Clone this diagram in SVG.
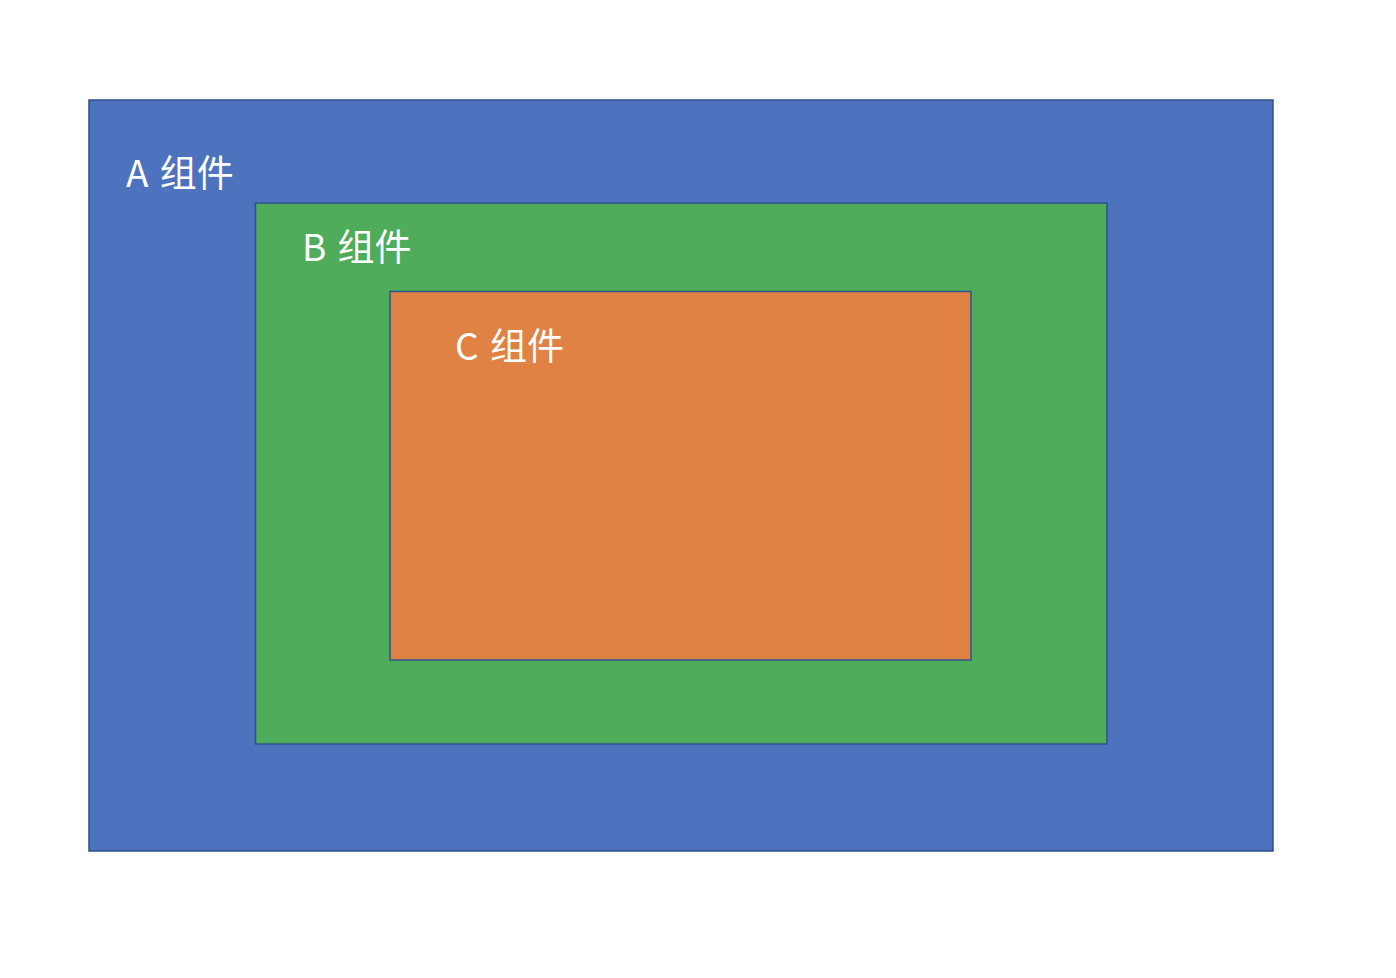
<svg xmlns="http://www.w3.org/2000/svg" width="1396" height="978" viewBox="0 0 1396 978">
<style>
.box{stroke:#2F528F;stroke-width:1.5}
.lbl{fill:#FFFFFF;font-family:"Noto Sans CJK SC","Noto Sans",sans-serif;font-size:37px;word-spacing:3px}
</style>
<rect width="1396" height="978" fill="#FFFFFF"/>
<g id="nodeA">
<rect class="box" x="89" y="100" width="1184" height="751" fill="#4D72BE"/>
<text class="lbl" x="126" y="187">A 组件</text>
</g>
<g id="nodeB">
<rect class="box" x="255.5" y="203" width="851.5" height="541" fill="#4FAC5B"/>
<text class="lbl" x="302" y="261">B 组件</text>
</g>
<g id="nodeC">
<rect class="box" x="390" y="291.5" width="581" height="368.5" fill="#E08243"/>
<text class="lbl" x="455" y="360">C 组件</text>
</g>
<g id="connectors"></g>
</svg>
